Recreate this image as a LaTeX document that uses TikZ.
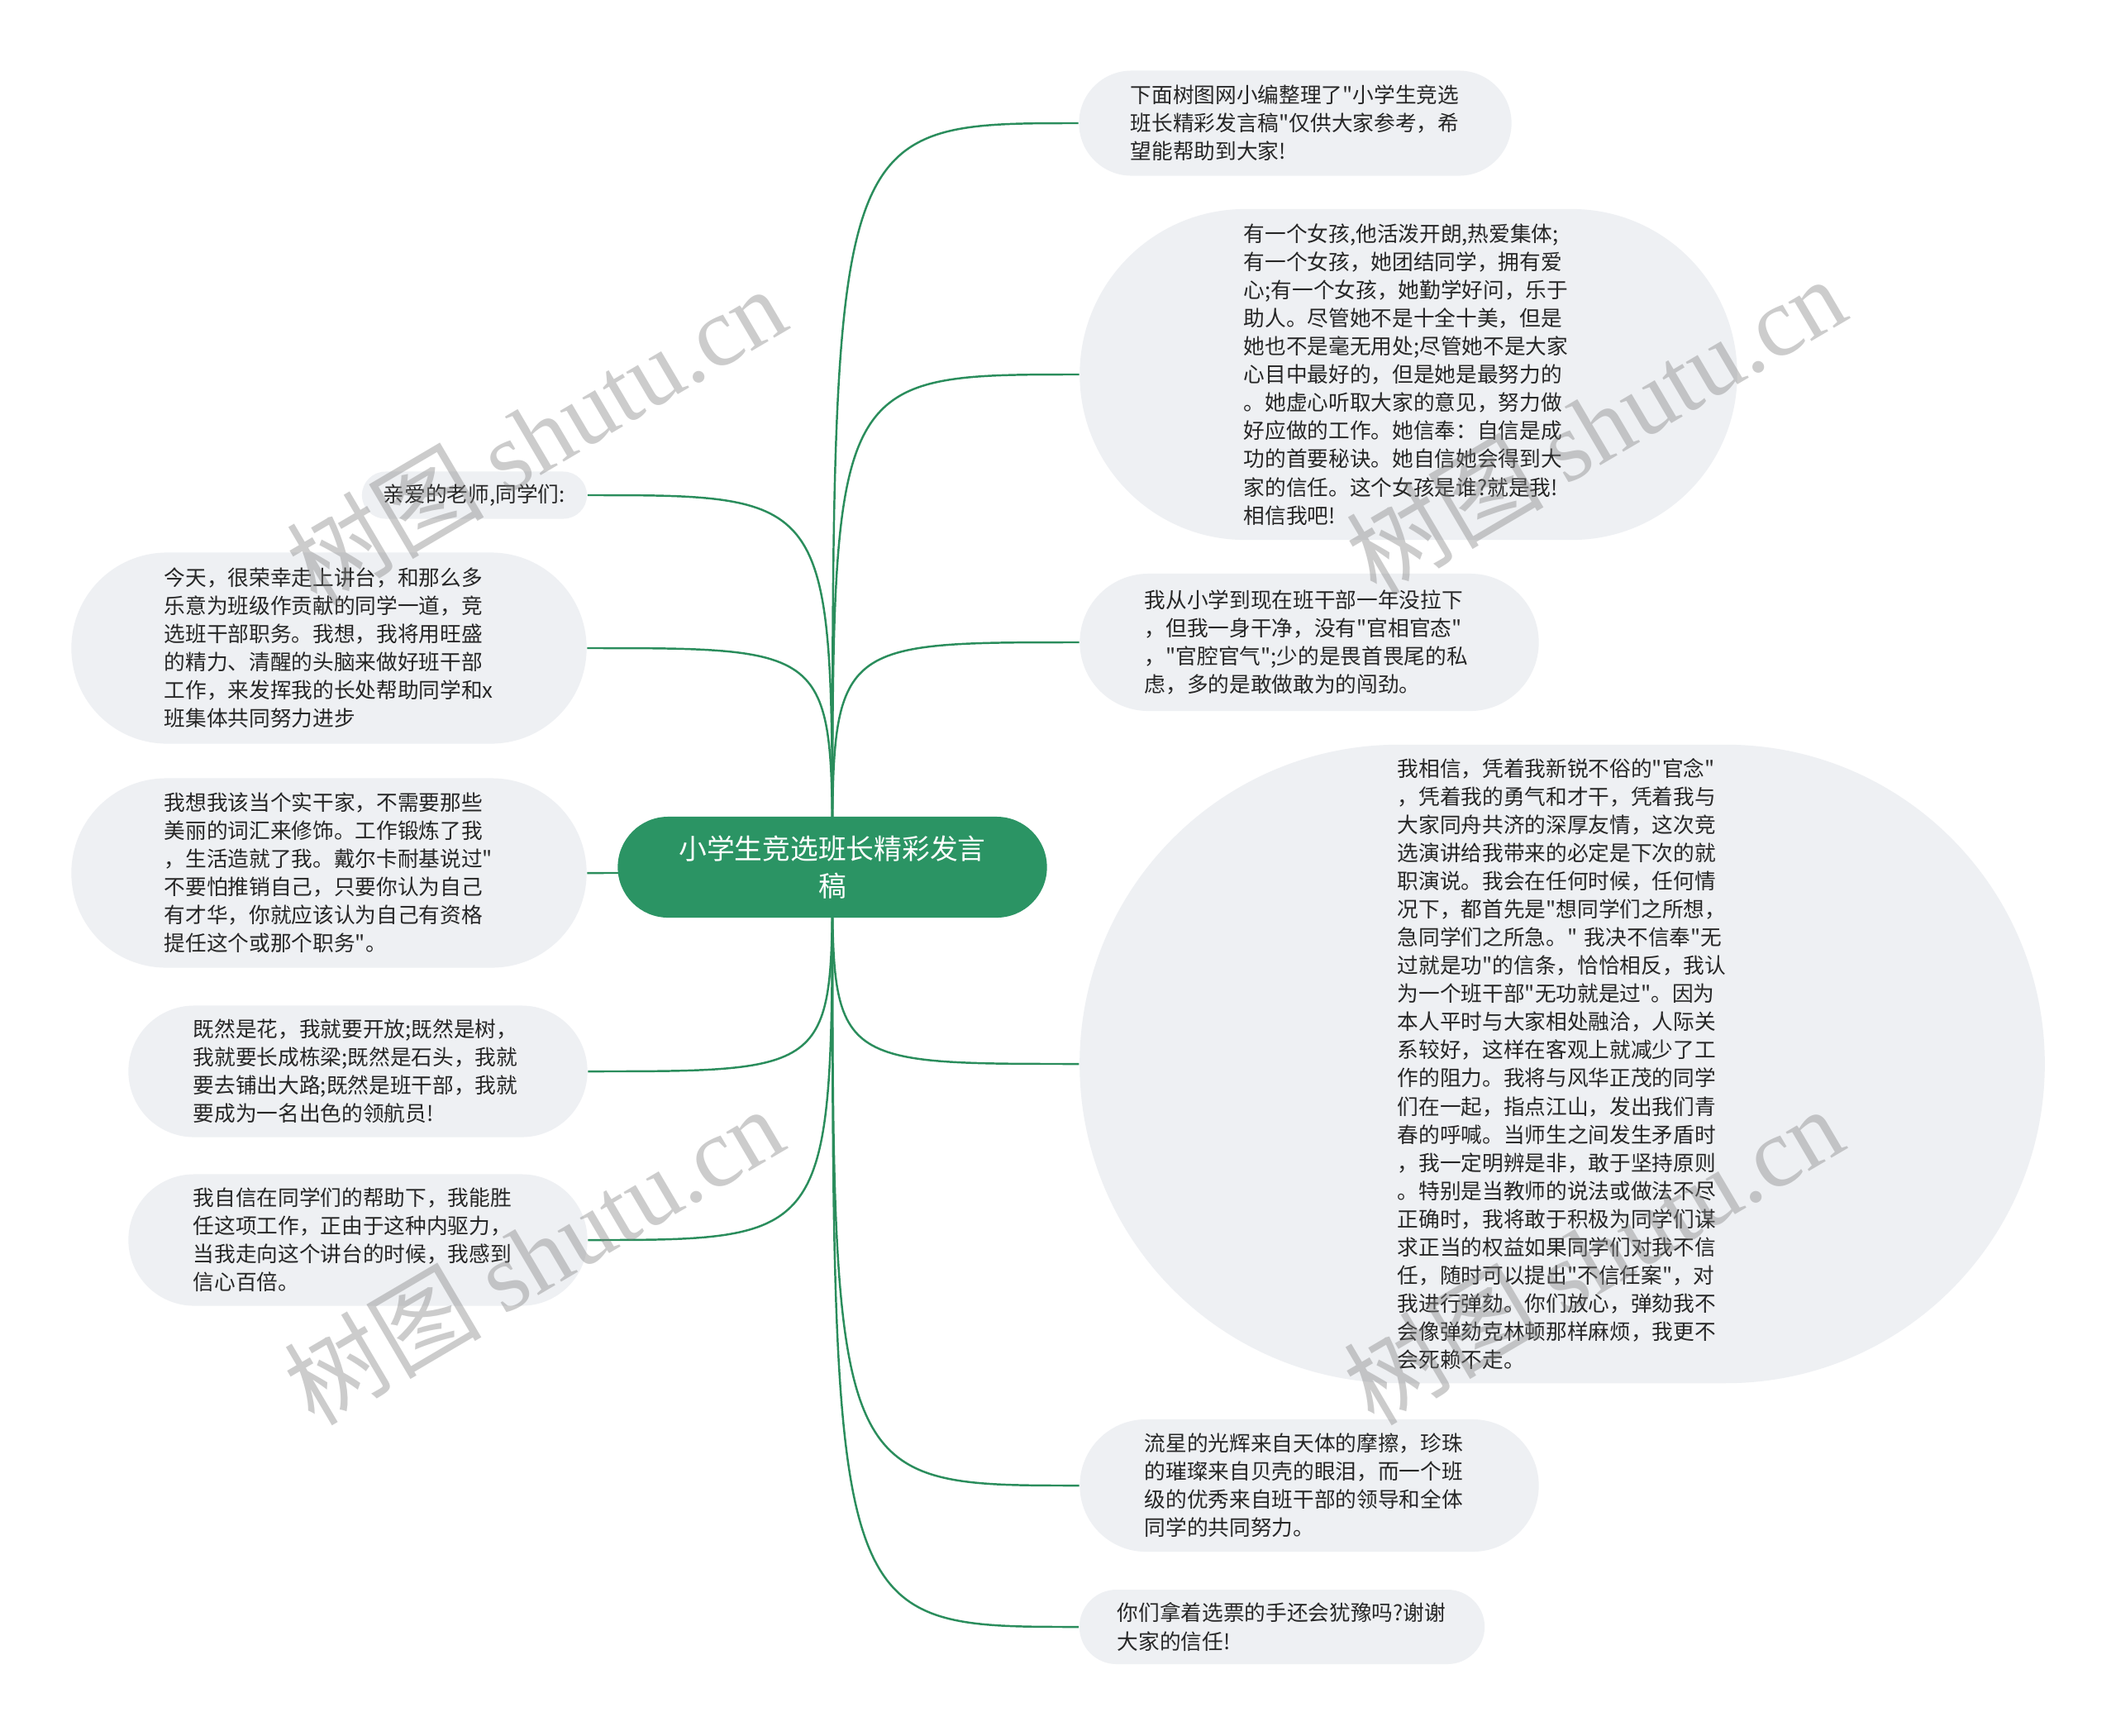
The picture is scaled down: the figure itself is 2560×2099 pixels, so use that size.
\documentclass[tikz,border=0pt]{standalone}
\usepackage{fontspec}
\newfontfamily\cjkfont{Noto Sans CJK SC}
\newfontfamily\wmfont{Liberation Serif}
\usepackage{tikz}
\usetikzlibrary{backgrounds}
\definecolor{hubgreen}{HTML}{2B9464}
\definecolor{linkgreen}{HTML}{2A8D5C}
\definecolor{leafgray}{HTML}{EEF0F3}
\definecolor{inkgray}{HTML}{262626}
\tikzset{
  hub/.style={fill=hubgreen, text=white, align=center, inner sep=0pt,
    minimum width=5.19cm, minimum height=1.22cm, rounded corners=0.61cm,
    font=\cjkfont\fontsize{9.6pt}{13pt}\selectfont},
  leaf/.style={fill=leafgray, text=inkgray, align=left, text width=3.98cm,
    inner sep=0pt, font=\cjkfont\fontsize{7.3pt}{9.68pt}\selectfont},
  link/.style={draw=linkgreen, line width=0.7pt},
  wmark/.style={text=black!50, opacity=0.4, rotate=30.5,
    font=\cjkfont\fontsize{34pt}{34pt}\selectfont}
}
% name, x, y, width, height, text
\newcommand{\leaf}[6]{ \node[leaf, minimum width=#4cm, minimum height=#5cm, rounded corners=#5*0.5cm] (#1) at (#2,#3) {#6};}

\begin{document}
\begin{tikzpicture}[x=0.01cm, y=-0.01cm]
        \useasboundingbox (0,0) rectangle (2560,2099);

        % centre
        \node[hub] (hub) at (1007,1049) {小学生竞选班长精彩发言\\稿};

        % right side
        \leaf{r1}{1567}{149}{5.23}{1.27}{下面树图网小编整理了"小学生竞选\\班长精彩发言稿"仅供大家参考，希\\望能帮助到大家!}
        \leaf{r2}{1704}{453}{7.95}{4.00}{有一个女孩,他活泼开朗,热爱集体;\\有一个女孩，她团结同学，拥有爱\\心;有一个女孩，她勤学好问，乐于\\助人。尽管她不是十全十美，但是\\她也不是毫无用处;尽管她不是大家\\心目中最好的，但是她是最努力的\\。她虚心听取大家的意见，努力做\\好应做的工作。她信奉：自信是成\\功的首要秘诀。她自信她会得到大\\家的信任。这个女孩是谁?就是我!\\相信我吧!}
        \leaf{r3}{1584}{777}{5.55}{1.66}{我从小学到现在班干部一年没拉下\\，但我一身干净，没有"官相官态"\\，"官腔官气";少的是畏首畏尾的私\\虑，多的是敢做敢为的闯劲。}
        \leaf{r4}{1890}{1287}{11.67}{7.72}{我相信，凭着我新锐不俗的"官念"\\，凭着我的勇气和才干，凭着我与\\大家同舟共济的深厚友情，这次竞\\选演讲给我带来的必定是下次的就\\职演说。我会在任何时候，任何情\\况下，都首先是"想同学们之所想，\\急同学们之所急。"~我决不信奉"无\\过就是功"的信条，恰恰相反，我认\\为一个班干部"无功就是过"。因为\\本人平时与大家相处融洽，人际关\\系较好，这样在客观上就减少了工\\作的阻力。我将与风华正茂的同学\\们在一起，指点江山，发出我们青\\春的呼喊。当师生之间发生矛盾时\\，我一定明辨是非，敢于坚持原则\\。特别是当教师的说法或做法不尽\\正确时，我将敢于积极为同学们谋\\求正当的权益如果同学们对我不信\\任，随时可以提出"不信任案"，对\\我进行弹劾。你们放心，弹劾我不\\会像弹劾克林顿那样麻烦，我更不\\会死赖不走。}
        \leaf{r5}{1584}{1797}{5.55}{1.60}{流星的光辉来自天体的摩擦，珍珠\\的璀璨来自贝壳的眼泪，而一个班\\级的优秀来自班干部的领导和全体\\同学的共同努力。}
        \leaf{r6}{1551}{1968}{4.90}{0.90}{你们拿着选票的手还会犹豫吗?谢谢\\大家的信任!}

        % left side
        \node[leaf, text width=2.2cm, minimum width=2.72cm, minimum height=0.57cm, rounded corners=0.285cm] (l1) at (574,599) {亲爱的老师,同学们:};
        \leaf{l2}{398}{784}{6.23}{2.31}{今天，很荣幸走上讲台，和那么多\\乐意为班级作贡献的同学一道，竞\\选班干部职务。我想，我将用旺盛\\的精力、清醒的头脑来做好班干部\\工作，来发挥我的长处帮助同学和x\\班集体共同努力进步}
        \leaf{l3}{398}{1056}{6.23}{2.29}{我想我该当个实干家，不需要那些\\美丽的词汇来修饰。工作锻炼了我\\，生活造就了我。戴尔卡耐基说过"\\不要怕推销自己，只要你认为自己\\有才华，你就应该认为自己有资格\\提任这个或那个职务"。}
        \leaf{l4}{433}{1296}{5.55}{1.59}{既然是花，我就要开放;既然是树，\\我就要长成栋梁;既然是石头，我就\\要去铺出大路;既然是班干部，我就\\要成为一名出色的领航员!}
        \leaf{l5}{433}{1500}{5.55}{1.59}{我自信在同学们的帮助下，我能胜\\任这项工作，正由于这种内驱力，\\当我走向这个讲台的时候，我感到\\信心百倍。}

        % links
        \begin{scope}[on background layer]
        \fill[white] (0,0) rectangle (2560,2099);
        \foreach \n in {r1,r2,r3,r4,r5,r6}
            \draw[link] (hub.center) .. controls (hub.center |- \n.west) .. (\n.west);
        \foreach \n in {l1,l2,l3,l4,l5}
            \draw[link] (hub.center) .. controls (hub.center |- \n.east) .. (\n.east);
        \end{scope}

        % watermarks
        \node[wmark] (wm1) at (648,526) {树图 {\wmfont shutu.cn}};
        \node[wmark] (wm2) at (1930,514) {树图 {\wmfont shutu.cn}};
        \node[wmark] (wm3) at (645,1518) {树图 {\wmfont shutu.cn}};
        \node[wmark] (wm4) at (1927,1518) {树图 {\wmfont shutu.cn}};

    \end{tikzpicture}
\end{document}
